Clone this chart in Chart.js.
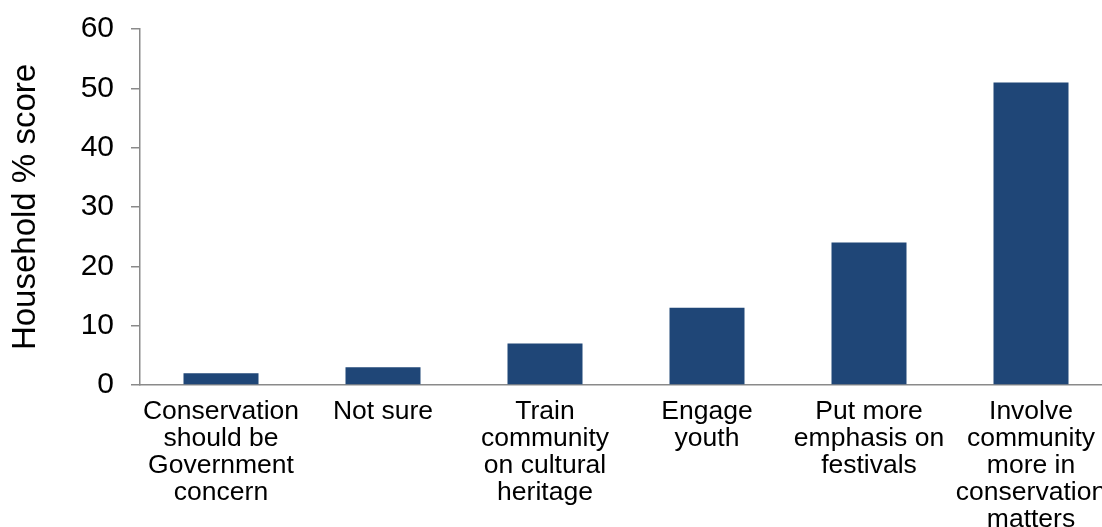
<!DOCTYPE html>
<html>
<head>
<meta charset="utf-8">
<script src="https://cdn.jsdelivr.net/npm/chart.js@4"></script>
<style>
  html, body { margin: 0; padding: 0; background: #fff; overflow: hidden; }
  #wrap { width: 1112px; height: 527px; }
</style>
</head>
<body>
<div id="wrap"><canvas id="myChart" width="1112" height="527"></canvas></div>
<script>
// categories (multi-line as in the original)
const categories = [
  ["Conservation", "should be", "Government", "concern"],
  ["Not sure"],
  ["Train", "community", "on cultural", "heritage"],
  ["Engage", "youth"],
  ["Put more", "emphasis on", "festivals"],
  ["Involve", "community", "more in", "conservation", "matters"]
];
const householdScore = [2, 3, 7, 13, 24, 51];
const yTicks = [0, 10, 20, 30, 40, 50, 60];

const barColor = '#1f4677';
const axisColor = '#8a8a8a';
const font = "'Liberation Sans', Arial, Helvetica, sans-serif";

const ctx = document.getElementById('myChart');

const myChart = new Chart(ctx, {
  type: 'bar',
  data: {
    labels: categories,
    datasets: [{
      label: 'Household % score',
      data: householdScore,
      backgroundColor: barColor,
      borderWidth: 0,
      categoryPercentage: 1,
      barPercentage: 0.463
    }]
  },
  options: {
    responsive: false,
    animation: false,
    layout: { padding: { top: 29, right: 0, bottom: 0, left: 0 } },
    plugins: {
      legend: { display: false },
      tooltip: { enabled: false }
    },
    scales: {
      x: {
        grid: { display: false, drawTicks: false },
        border: { display: true, color: axisColor, width: 1.5 },
        ticks: {
          color: '#000',
          font: { family: font, size: 26.5, lineHeight: 1.02 },
          padding: 13,
          maxRotation: 0,
          autoSkip: false
        },
        afterFit: (axis) => {
          axis.height = 142;
          // let the last label run off the edge like in the original
          axis.paddingLeft = 0;
          axis.paddingRight = 0;
        }
      },
      y: {
        min: 0,
        max: 60,
        afterBuildTicks: (axis) => { axis.ticks = yTicks.map(v => ({ value: v })); },
        grid: { display: true, drawOnChartArea: false, drawTicks: true, tickLength: 9, color: axisColor, lineWidth: 1.5 },
        border: { display: true, color: axisColor, width: 1.5 },
        ticks: {
          color: '#000',
          font: { family: font, size: 30 },
          padding: 17
        },
        title: {
          display: true,
          text: 'Household % score',
          color: '#000',
          font: { family: font, size: 33 },
          padding: { top: 6, bottom: 0 }
        },
        afterFit: (axis) => {
          axis.width = 140;
          axis.paddingTop = 0;
          axis.paddingBottom = 0;
        }
      }
    }
  }
});
</script>
</body>
</html>
